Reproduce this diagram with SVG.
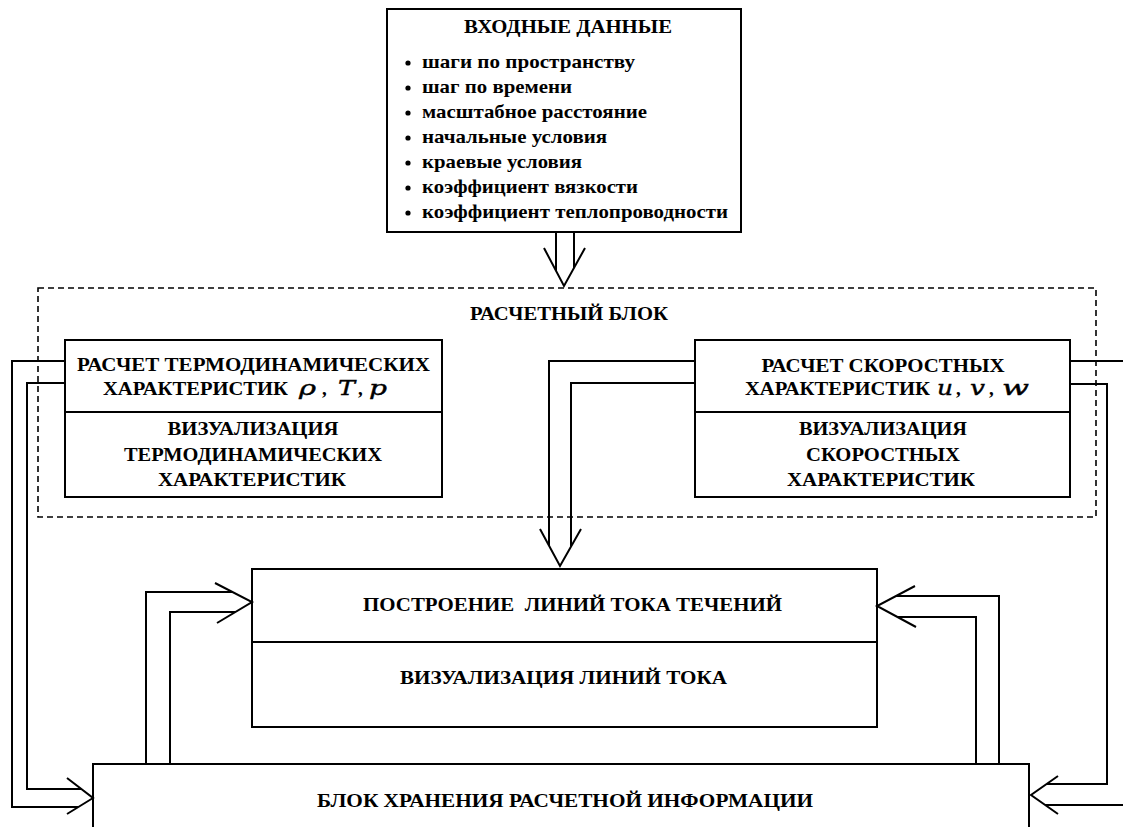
<svg xmlns="http://www.w3.org/2000/svg" width="1123" height="827" viewBox="0 0 1123 827">
<style>
.box{fill:#fff;stroke:#000;stroke-width:2}
.div{stroke:#000;stroke-width:2}
.dash{fill:none;stroke:#000;stroke-width:1.6;stroke-dasharray:6,4}
.ln{fill:none;stroke:#000;stroke-width:2;stroke-linejoin:miter}
.t{font-family:"Liberation Serif","DejaVu Serif",serif;font-weight:bold;font-size:19px;fill:#000;text-anchor:middle}
.s{font-family:"Liberation Serif","DejaVu Serif",serif;font-weight:bold;font-size:19px;fill:#000}
.m{font-family:"DejaVu Serif",serif;font-style:italic;font-weight:normal;font-size:20px;fill:#000;stroke:#000;stroke-width:0.4}
</style>
<rect width="1123" height="827" fill="#fff"/>
<g id="calc-block">
<rect class="dash" x="38" y="288" width="1058" height="229"/>
<text class="t" x="569" y="320" textLength="198" lengthAdjust="spacingAndGlyphs">РАСЧЕТНЫЙ БЛОК</text>
</g>
<g id="input">
<rect class="box" x="387" y="9" width="354" height="223"/>
<text class="t" x="568" y="33" textLength="208" lengthAdjust="spacingAndGlyphs">ВХОДНЫЕ ДАННЫЕ</text>
<g fill="#000">
<circle cx="408" cy="63" r="2.6"/><circle cx="408" cy="88" r="2.6"/><circle cx="408" cy="113" r="2.6"/><circle cx="408" cy="138" r="2.6"/><circle cx="408" cy="163" r="2.6"/><circle cx="408" cy="188" r="2.6"/><circle cx="408" cy="213" r="2.6"/>
</g>
<text class="s" x="422" y="68" textLength="213" lengthAdjust="spacingAndGlyphs">шаги по пространству</text>
<text class="s" x="422" y="93" textLength="150" lengthAdjust="spacingAndGlyphs">шаг по времени</text>
<text class="s" x="422" y="118" textLength="225" lengthAdjust="spacingAndGlyphs">масштабное расстояние</text>
<text class="s" x="422" y="143" textLength="185" lengthAdjust="spacingAndGlyphs">начальные условия</text>
<text class="s" x="422" y="168" textLength="160" lengthAdjust="spacingAndGlyphs">краевые условия</text>
<text class="s" x="422" y="193" textLength="216" lengthAdjust="spacingAndGlyphs">коэффициент вязкости</text>
<text class="s" x="422" y="218" textLength="306" lengthAdjust="spacingAndGlyphs">коэффициент теплопроводности</text>
</g>
<g id="thermo">
<rect class="box" x="65" y="340" width="377" height="157"/>
<line class="div" x1="65" y1="412" x2="442" y2="412"/>
<text class="t" x="253.5" y="371" textLength="353" lengthAdjust="spacingAndGlyphs">РАСЧЕТ ТЕРМОДИНАМИЧЕСКИХ</text>
<text class="s" x="103" y="395" textLength="185" lengthAdjust="spacingAndGlyphs">ХАРАКТЕРИСТИК</text>
<text class="m" x="299" y="395" textLength="17" lengthAdjust="spacingAndGlyphs">ρ</text>
<text class="s" x="322" y="395">,</text>
<text class="m" x="338" y="395" textLength="17" lengthAdjust="spacingAndGlyphs">T</text>
<text class="s" x="358" y="395">,</text>
<text class="m" x="369" y="395" textLength="18" lengthAdjust="spacingAndGlyphs">p</text>
<text class="t" x="253" y="435" textLength="171" lengthAdjust="spacingAndGlyphs">ВИЗУАЛИЗАЦИЯ</text>
<text class="t" x="253" y="461" textLength="258" lengthAdjust="spacingAndGlyphs">ТЕРМОДИНАМИЧЕСКИХ</text>
<text class="t" x="252" y="486" textLength="188" lengthAdjust="spacingAndGlyphs">ХАРАКТЕРИСТИК</text>
</g>
<g id="velocity">
<rect class="box" x="695" y="340" width="375" height="157"/>
<line class="div" x1="695" y1="412" x2="1070" y2="412"/>
<text class="t" x="883" y="372" textLength="243" lengthAdjust="spacingAndGlyphs">РАСЧЕТ СКОРОСТНЫХ</text>
<text class="s" x="745" y="395" textLength="185" lengthAdjust="spacingAndGlyphs">ХАРАКТЕРИСТИК</text>
<text class="m" x="937" y="395" textLength="16" lengthAdjust="spacingAndGlyphs">u</text>
<text class="s" x="956" y="395">,</text>
<text class="m" x="970" y="395" textLength="15" lengthAdjust="spacingAndGlyphs">v</text>
<text class="s" x="989" y="395">,</text>
<text class="m" x="1002" y="395" textLength="27" lengthAdjust="spacingAndGlyphs">w</text>
<text class="t" x="883" y="435" textLength="168" lengthAdjust="spacingAndGlyphs">ВИЗУАЛИЗАЦИЯ</text>
<text class="t" x="883" y="461" textLength="154" lengthAdjust="spacingAndGlyphs">СКОРОСТНЫХ</text>
<text class="t" x="881" y="486" textLength="188" lengthAdjust="spacingAndGlyphs">ХАРАКТЕРИСТИК</text>
</g>
<g id="streamlines">
<rect class="box" x="252" y="569" width="625" height="158"/>
<line class="div" x1="252" y1="642" x2="877" y2="642"/>
<text class="t" x="572.5" y="611" textLength="419" lengthAdjust="spacingAndGlyphs" xml:space="preserve">ПОСТРОЕНИЕ  ЛИНИЙ ТОКА ТЕЧЕНИЙ</text>
<text class="t" x="563.5" y="684" textLength="327" lengthAdjust="spacingAndGlyphs">ВИЗУАЛИЗАЦИЯ ЛИНИЙ ТОКА</text>
</g>
<g id="storage">
<rect class="box" x="93" y="764" width="936" height="80"/>
<text class="t" x="565" y="807" textLength="496" lengthAdjust="spacingAndGlyphs">БЛОК ХРАНЕНИЯ РАСЧЕТНОЙ ИНФОРМАЦИИ</text>
</g>
<g id="connectors">
<path class="ln" d="M556,232 V271 M574,232 V268 M544,248 L564,286 L585,248"/>
<path class="ln" d="M695,361 H549 V546 M695,383 H571 V546 M540,529 L560,566 L581,529"/>
<path class="ln" d="M65,361 H12 V807 H78 M65,383 H27 V789 H81 M67,778 L93,798 L67,814"/>
<path class="ln" d="M1070,361 H1135 V805 H1045 M1070,384 H1107 V784 H1047 M1058,776 L1031,795 L1058,814"/>
<path class="ln" d="M146,764 V592 H233 M170,764 V612 H235 M215,583 L252,602 L217,623"/>
<path class="ln" d="M999,764 V596 H896 M976,764 V617 H897 M915,586 L877,606 L916,627"/>
</g>
</svg>
